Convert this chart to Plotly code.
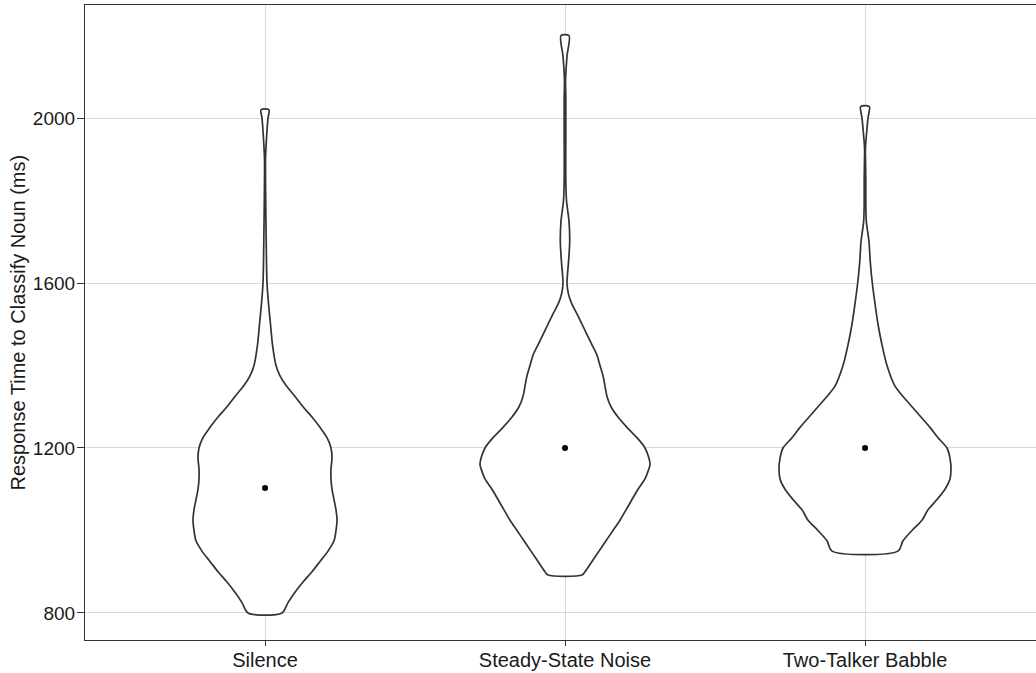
import plotly.graph_objects as go

categories = ["Silence", "Steady-State Noise", "Two-Talker Babble"]
means = [1103, 1200, 1200]
y_title = "Response Time to Classify Noun (ms)"

# density profiles: response time (ms) and relative half-width
silence_rt = [800, 825, 850, 875, 900, 925, 950, 975, 1000, 1025, 1050, 1075, 1100, 1125, 1150,
              1175, 1200, 1225, 1250, 1275, 1300, 1325, 1350, 1375, 1400, 1450, 1500, 1550, 1600,
              1700, 1800, 1850, 1900, 1950, 2000, 2020]
silence_w = [17, 23, 30, 38, 47, 55, 63, 69, 71, 72, 71, 69, 67, 66, 66,
             67, 66, 62, 55, 47, 38, 30, 21.5, 15, 11, 7.5, 5.5, 3.5, 2,
             1.2, 0.7, 0.5, 0.5, 1.5, 3, 4]

steady_rt = [892, 900, 925, 950, 975, 1000, 1025, 1050, 1075, 1100, 1125, 1150, 1160, 1175, 1200,
             1225, 1250, 1275, 1300, 1325, 1350, 1375, 1400, 1425, 1450, 1475, 1500, 1525, 1550,
             1575, 1600, 1650, 1700, 1750, 1800, 1850, 1950, 2050, 2090, 2150, 2200]
steady_w = [17, 20, 27, 34, 41, 48, 55, 61, 67, 73, 80, 84, 85, 84, 80,
            72, 62, 53, 46, 42, 40, 38, 35, 32, 27, 22, 17, 12, 6.7,
            3.3, 2, 3.5, 4.7, 4, 1.5, 0.8, 0.8, 0.8, 0.5, 2, 4]

babble_rt = [950, 975, 1000, 1025, 1050, 1075, 1100, 1125, 1150, 1175, 1200, 1225, 1250, 1300,
             1350, 1400, 1450, 1500, 1550, 1600, 1650, 1700, 1750, 1800, 1850, 1900, 1925,
             1975, 2000, 2028]
babble_w = [33, 38, 47, 57, 63, 72, 80, 85, 86, 85, 82, 73, 65, 47,
            30, 22, 17, 13, 10, 7.3, 5.3, 4, 1.3, 0.8, 0.8, 0.5, 0.4,
            2, 3, 4.3]

profiles = [(silence_rt, silence_w), (steady_rt, steady_w), (babble_rt, babble_w)]
WIDTH_SCALE = 1 / 300.0  # relative width -> category units

fig = go.Figure()
for i, (rt, w) in enumerate(profiles):
    c = i + 1
    xs = [c + v * WIDTH_SCALE for v in w] + [c - v * WIDTH_SCALE for v in reversed(w)] + [c + w[0] * WIDTH_SCALE]
    ys = list(rt) + list(reversed(rt)) + [rt[0]]
    fig.add_trace(go.Scatter(x=xs, y=ys, mode="lines", fill="toself", fillcolor="white",
                             line=dict(color="#333333", width=1.7, shape="spline", smoothing=0.8),
                             hoverinfo="skip", showlegend=False))

fig.add_trace(go.Scatter(x=[1, 2, 3], y=means, mode="markers",
                         marker=dict(color="black", size=6), showlegend=False))

fig.update_layout(
    width=1036, height=673,
    margin=dict(l=85, r=0, t=5, b=33),
    paper_bgcolor="white", plot_bgcolor="white",
    font=dict(family="Liberation Sans, Arial, sans-serif", size=20, color="#1a1a1a"),
    showlegend=False,
    annotations=[dict(text=y_title, xref="paper", yref="paper", x=0, y=0.5,
                      xanchor="center", yanchor="middle", xshift=-68, textangle=-90,
                      showarrow=False, font=dict(size=20, color="#1a1a1a"))],
)
fig.update_xaxes(
    range=[0.4, 3.57], tickvals=[1, 2, 3], ticktext=categories,
    showgrid=True, gridcolor="#d9d9d9", gridwidth=1, zeroline=False,
    showline=True, linecolor="#333333", linewidth=1.2, mirror=True,
    ticks="outside", ticklen=5, tickcolor="#333333", ticklabelstandoff=-3,
    tickfont=dict(size=20, color="#1a1a1a"),
)
fig.update_yaxes(
    range=[734.5, 2274], tickvals=[800, 1200, 1600, 2000],
    showgrid=True, gridcolor="#d9d9d9", gridwidth=1, zeroline=False,
    showline=True, linecolor="#333333", linewidth=1.2, mirror=False,
    ticks="outside", ticklen=7, tickcolor="#333333", ticklabelstandoff=-2,
    tickfont=dict(size=19, color="#1a1a1a"),
)

fig.write_html("out.html", config={"displayModeBar": False},
               post_script="document.body.style.margin='0px';")
